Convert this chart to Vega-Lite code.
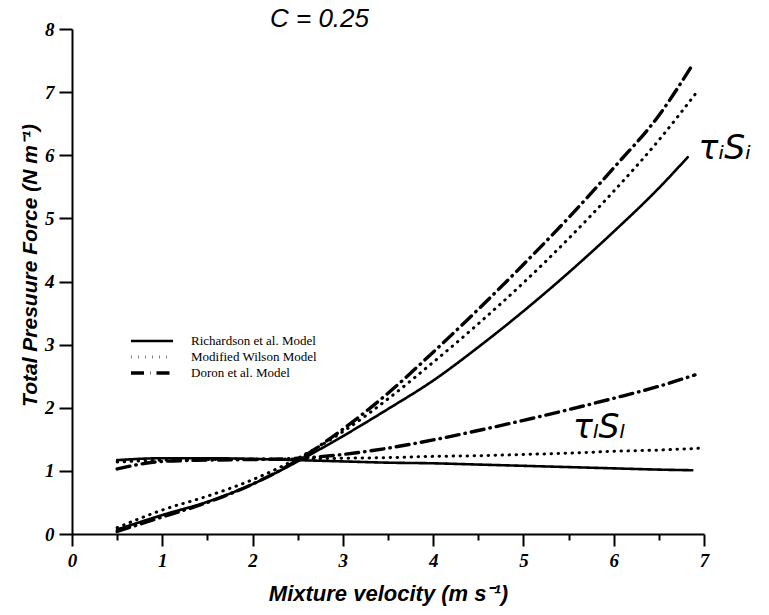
{
  "$schema": "https://vega.github.io/schema/vega-lite/v6.json",
  "autosize": "none",
  "width": 632,
  "height": 505,
  "padding": {"left": 72, "top": 29, "right": 65, "bottom": 81},
  "background": "white",
  "config": {"view": {"stroke": null}},
  "title": {"text": "C = 0.25", "anchor": "start", "frame": "group", "dx": 198, "offset": -12, "font": "Liberation Sans", "fontStyle": "italic", "fontWeight": "normal", "fontSize": 26, "color": "black"},
  "layer": [
    {
      "data": {"values": [
        {"model": "Richardson et al. Model", "curve": "R_up", "v": 0.5, "f": 0.07},
        {"model": "Richardson et al. Model", "curve": "R_up", "v": 1.0, "f": 0.3},
        {"model": "Richardson et al. Model", "curve": "R_up", "v": 1.5, "f": 0.51},
        {"model": "Richardson et al. Model", "curve": "R_up", "v": 2.0, "f": 0.79},
        {"model": "Richardson et al. Model", "curve": "R_up", "v": 2.5, "f": 1.15},
        {"model": "Richardson et al. Model", "curve": "R_up", "v": 3.0, "f": 1.55},
        {"model": "Richardson et al. Model", "curve": "R_up", "v": 3.5, "f": 1.98},
        {"model": "Richardson et al. Model", "curve": "R_up", "v": 4.0, "f": 2.43},
        {"model": "Richardson et al. Model", "curve": "R_up", "v": 4.5, "f": 2.96},
        {"model": "Richardson et al. Model", "curve": "R_up", "v": 5.0, "f": 3.53},
        {"model": "Richardson et al. Model", "curve": "R_up", "v": 5.5, "f": 4.14},
        {"model": "Richardson et al. Model", "curve": "R_up", "v": 6.0, "f": 4.79},
        {"model": "Richardson et al. Model", "curve": "R_up", "v": 6.5, "f": 5.48},
        {"model": "Richardson et al. Model", "curve": "R_up", "v": 6.82, "f": 5.97},
        {"model": "Modified Wilson Model", "curve": "W_up", "v": 0.5, "f": 0.1},
        {"model": "Modified Wilson Model", "curve": "W_up", "v": 1.0, "f": 0.38},
        {"model": "Modified Wilson Model", "curve": "W_up", "v": 1.5, "f": 0.6},
        {"model": "Modified Wilson Model", "curve": "W_up", "v": 2.0, "f": 0.86},
        {"model": "Modified Wilson Model", "curve": "W_up", "v": 2.5, "f": 1.2},
        {"model": "Modified Wilson Model", "curve": "W_up", "v": 3.0, "f": 1.62},
        {"model": "Modified Wilson Model", "curve": "W_up", "v": 3.5, "f": 2.14},
        {"model": "Modified Wilson Model", "curve": "W_up", "v": 4.0, "f": 2.72},
        {"model": "Modified Wilson Model", "curve": "W_up", "v": 4.5, "f": 3.33},
        {"model": "Modified Wilson Model", "curve": "W_up", "v": 5.0, "f": 3.98},
        {"model": "Modified Wilson Model", "curve": "W_up", "v": 5.5, "f": 4.68},
        {"model": "Modified Wilson Model", "curve": "W_up", "v": 6.0, "f": 5.43},
        {"model": "Modified Wilson Model", "curve": "W_up", "v": 6.5, "f": 6.24},
        {"model": "Modified Wilson Model", "curve": "W_up", "v": 6.92, "f": 7.0},
        {"model": "Doron et al. Model", "curve": "D_up", "v": 0.5, "f": 0.04},
        {"model": "Doron et al. Model", "curve": "D_up", "v": 1.0, "f": 0.27},
        {"model": "Doron et al. Model", "curve": "D_up", "v": 1.5, "f": 0.5},
        {"model": "Doron et al. Model", "curve": "D_up", "v": 2.0, "f": 0.79},
        {"model": "Doron et al. Model", "curve": "D_up", "v": 2.5, "f": 1.17},
        {"model": "Doron et al. Model", "curve": "D_up", "v": 3.0, "f": 1.66},
        {"model": "Doron et al. Model", "curve": "D_up", "v": 3.5, "f": 2.23},
        {"model": "Doron et al. Model", "curve": "D_up", "v": 4.0, "f": 2.88},
        {"model": "Doron et al. Model", "curve": "D_up", "v": 4.5, "f": 3.56},
        {"model": "Doron et al. Model", "curve": "D_up", "v": 5.0, "f": 4.27},
        {"model": "Doron et al. Model", "curve": "D_up", "v": 5.5, "f": 5.01},
        {"model": "Doron et al. Model", "curve": "D_up", "v": 6.0, "f": 5.8},
        {"model": "Doron et al. Model", "curve": "D_up", "v": 6.5, "f": 6.63},
        {"model": "Doron et al. Model", "curve": "D_up", "v": 6.88, "f": 7.45},
        {"model": "Richardson et al. Model", "curve": "R_lo", "v": 0.5, "f": 1.17},
        {"model": "Richardson et al. Model", "curve": "R_lo", "v": 1.0, "f": 1.2},
        {"model": "Richardson et al. Model", "curve": "R_lo", "v": 1.5, "f": 1.2},
        {"model": "Richardson et al. Model", "curve": "R_lo", "v": 2.0, "f": 1.19},
        {"model": "Richardson et al. Model", "curve": "R_lo", "v": 2.5, "f": 1.17},
        {"model": "Richardson et al. Model", "curve": "R_lo", "v": 3.0, "f": 1.15},
        {"model": "Richardson et al. Model", "curve": "R_lo", "v": 3.5, "f": 1.13},
        {"model": "Richardson et al. Model", "curve": "R_lo", "v": 4.0, "f": 1.12},
        {"model": "Richardson et al. Model", "curve": "R_lo", "v": 4.5, "f": 1.1},
        {"model": "Richardson et al. Model", "curve": "R_lo", "v": 5.0, "f": 1.08},
        {"model": "Richardson et al. Model", "curve": "R_lo", "v": 5.5, "f": 1.06},
        {"model": "Richardson et al. Model", "curve": "R_lo", "v": 6.0, "f": 1.04},
        {"model": "Richardson et al. Model", "curve": "R_lo", "v": 6.5, "f": 1.02},
        {"model": "Richardson et al. Model", "curve": "R_lo", "v": 6.87, "f": 1.01},
        {"model": "Modified Wilson Model", "curve": "W_lo", "v": 0.5, "f": 1.14},
        {"model": "Modified Wilson Model", "curve": "W_lo", "v": 1.0, "f": 1.17},
        {"model": "Modified Wilson Model", "curve": "W_lo", "v": 1.5, "f": 1.18},
        {"model": "Modified Wilson Model", "curve": "W_lo", "v": 2.0, "f": 1.19},
        {"model": "Modified Wilson Model", "curve": "W_lo", "v": 2.5, "f": 1.19},
        {"model": "Modified Wilson Model", "curve": "W_lo", "v": 3.0, "f": 1.2},
        {"model": "Modified Wilson Model", "curve": "W_lo", "v": 3.5, "f": 1.21},
        {"model": "Modified Wilson Model", "curve": "W_lo", "v": 4.0, "f": 1.23},
        {"model": "Modified Wilson Model", "curve": "W_lo", "v": 4.5, "f": 1.24},
        {"model": "Modified Wilson Model", "curve": "W_lo", "v": 5.0, "f": 1.26},
        {"model": "Modified Wilson Model", "curve": "W_lo", "v": 5.5, "f": 1.28},
        {"model": "Modified Wilson Model", "curve": "W_lo", "v": 6.0, "f": 1.31},
        {"model": "Modified Wilson Model", "curve": "W_lo", "v": 6.5, "f": 1.33},
        {"model": "Modified Wilson Model", "curve": "W_lo", "v": 6.97, "f": 1.36},
        {"model": "Doron et al. Model", "curve": "D_lo", "v": 0.5, "f": 1.03},
        {"model": "Doron et al. Model", "curve": "D_lo", "v": 1.0, "f": 1.15},
        {"model": "Doron et al. Model", "curve": "D_lo", "v": 1.5, "f": 1.17},
        {"model": "Doron et al. Model", "curve": "D_lo", "v": 2.0, "f": 1.18},
        {"model": "Doron et al. Model", "curve": "D_lo", "v": 2.5, "f": 1.2},
        {"model": "Doron et al. Model", "curve": "D_lo", "v": 3.0, "f": 1.26},
        {"model": "Doron et al. Model", "curve": "D_lo", "v": 3.5, "f": 1.36},
        {"model": "Doron et al. Model", "curve": "D_lo", "v": 4.0, "f": 1.49},
        {"model": "Doron et al. Model", "curve": "D_lo", "v": 4.5, "f": 1.64},
        {"model": "Doron et al. Model", "curve": "D_lo", "v": 5.0, "f": 1.8},
        {"model": "Doron et al. Model", "curve": "D_lo", "v": 5.5, "f": 1.97},
        {"model": "Doron et al. Model", "curve": "D_lo", "v": 6.0, "f": 2.15},
        {"model": "Doron et al. Model", "curve": "D_lo", "v": 6.5, "f": 2.34},
        {"model": "Doron et al. Model", "curve": "D_lo", "v": 6.9, "f": 2.52}
      ]},
      "mark": {"type": "line", "color": "black", "strokeCap": "round", "interpolate": "monotone"},
      "encoding": {
        "x": {"field": "v", "type": "quantitative",
          "scale": {"domain": [0, 7], "nice": false, "zero": false},
          "axis": {
            "values": [0, 0.5, 1, 1.5, 2, 2.5, 3, 3.5, 4, 4.5, 5, 5.5, 6, 6.5, 7],
            "labelExpr": "datum.value % 1 ? '' : '' + datum.value",
            "tickSize": {"condition": {"test": "datum.value % 1 !== 0", "value": 6}, "value": 12},
            "grid": false, "domainColor": "black", "domainWidth": 2, "tickColor": "black", "tickWidth": 2,
            "labelFont": "Liberation Serif", "labelFontStyle": "italic", "labelFontWeight": "bold", "labelFontSize": 19, "labelColor": "black", "labelPadding": 5, "labelFlush": false,
            "title": "Mixture velocity (m s⁻¹)", "titleFont": "Liberation Sans", "titleFontStyle": "italic", "titleFontWeight": "bold", "titleFontSize": 22, "titleColor": "black", "titlePadding": 13
          }
        },
        "y": {"field": "f", "type": "quantitative",
          "scale": {"domain": [0, 8], "nice": false},
          "axis": {
            "values": [0, 0.5, 1, 1.5, 2, 2.5, 3, 3.5, 4, 4.5, 5, 5.5, 6, 6.5, 7, 7.5, 8],
            "labelExpr": "datum.value % 1 ? '' : '' + datum.value",
            "tickSize": {"condition": {"test": "datum.value % 1 !== 0", "value": 7}, "value": 13},
            "grid": false, "domainColor": "black", "domainWidth": 2, "tickColor": "black", "tickWidth": 2,
            "labelFont": "Liberation Serif", "labelFontStyle": "italic", "labelFontWeight": "bold", "labelFontSize": 19, "labelColor": "black", "labelPadding": 5, "labelFlush": false,
            "title": "Total Presuure Force (N m⁻¹)", "titleFont": "Liberation Sans", "titleFontStyle": "italic", "titleFontWeight": "bold", "titleFontSize": 21, "titleColor": "black", "titlePadding": 4, "titleY": 236
          }
        },
        "detail": {"field": "curve"},
        "strokeWidth": {"field": "model", "type": "nominal",
          "scale": {"domain": ["Richardson et al. Model", "Modified Wilson Model", "Doron et al. Model"], "range": [2.6, 3.4, 2.6]},
          "legend": null
        },
        "strokeDash": {"field": "model", "type": "nominal",
          "scale": {"domain": ["Richardson et al. Model", "Modified Wilson Model", "Doron et al. Model"], "range": [[1, 0], [0.5, 6.5], [13, 6, 0.5, 6]]},
          "legend": {"title": null, "orient": "none", "legendX": 57, "legendY": 304, "symbolType": "stroke", "symbolSize": 1764, "symbolStrokeWidth": 3.2, "symbolStrokeColor": "black", "clipHeight": 16, "rowPadding": 0, "labelOffset": 16, "labelFont": "Liberation Serif", "labelFontSize": 13, "labelColor": "black"}
        }
      }
    },
    {
      "data": {"values": [
        {"label": "τᵢSᵢ", "v": 6.94, "f": 6.1},
        {"label": "τₗSₗ", "v": 5.55, "f": 1.68}
      ]},
      "mark": {"type": "text", "align": "left", "baseline": "middle", "font": "DejaVu Sans", "fontStyle": "italic", "fontSize": 33, "color": "black"},
      "encoding": {
        "x": {"field": "v", "type": "quantitative"},
        "y": {"field": "f", "type": "quantitative"},
        "text": {"field": "label"}
      }
    }
  ]
}
